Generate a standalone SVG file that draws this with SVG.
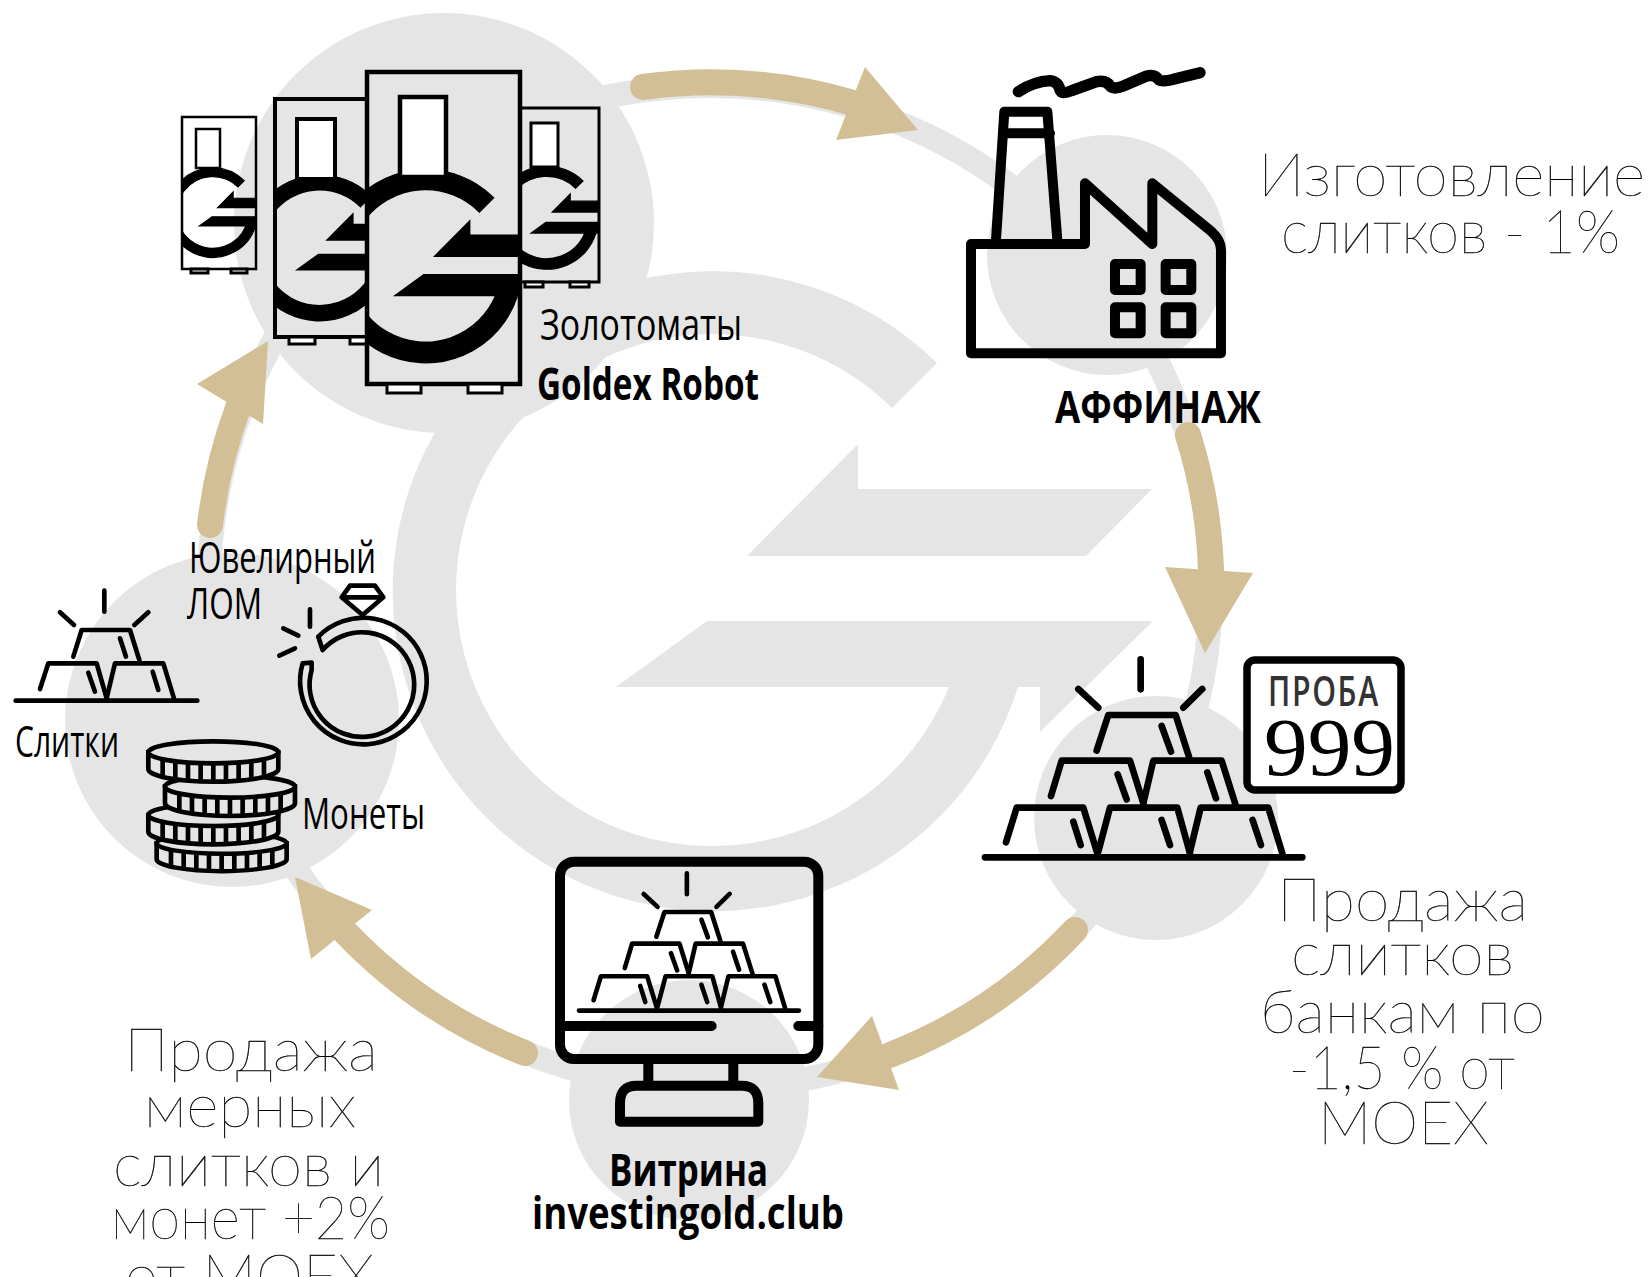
<svg xmlns="http://www.w3.org/2000/svg" xmlns:xlink="http://www.w3.org/1999/xlink" width="1650" height="1277" viewBox="0 0 1650 1277">
<style>
.bg{fill:#e5e5e5}
.ink{fill:none;stroke:#000;stroke-linecap:round;stroke-linejoin:round}
.shaft{fill:none;stroke:#d2bf96;stroke-width:26;stroke-linecap:round}
.head{fill:#d2bf96}
.thin{font-family:"Lato","Inter",sans-serif;font-weight:100;font-size:60px;fill:#000;stroke:#000;stroke-width:.35;text-anchor:start}
.c{font-family:"Open Sans","Noto Sans",sans-serif;font-size:44px;fill:#000;text-anchor:start}
.b{font-weight:700}
.box{fill:none;stroke:#000}
.foot{fill:#fff;stroke:#000;stroke-width:3}
.win{fill:#fff;stroke:#000}
.mark{stroke:#000;stroke-width:8}
</style>
<defs>
<g id="logo">
<path d="M1018,687A320,320 0 1 1 937,363L892,408A256,256 0 1 0 949,687L616,687L707,621L1153,621L1040,732L1040,687Z"/>
<path d="M858,444L858,489L1152,489L1086,556L747,556Z"/>
</g>
<g id="pyr" class="ink" stroke-width="20">
<path d="M108,607L140,503H340L382,640M310,545L332,615"/>
<path d="M385,635L420,503H622L660,640M575,540L600,615"/>
<path d="M660,635L692,503H895L937,640M848,540L873,615"/>
<path d="M243,468L275,362H480L520,490M443,403L470,478"/>
<path d="M520,490L550,362H755L797,495M712,397L738,475"/>
<path d="M380,332L415,225H617L657,350M575,258L603,335"/>
<path d="M512,58V148M325,147L385,203M697,147L640,203"/>
<path d="M45,652H997"/>
</g>
<g id="coin">
<path d="M-195,0V50A195,38 0 0 0 195,50V0Z" fill="#e5e5e5" stroke="#000" stroke-width="14"/>
<ellipse rx="195" ry="33" fill="#e5e5e5" stroke="#000" stroke-width="14"/>
<path d="M-152,21V74M-114,27V81M-76,30V85M-38,32V87M0,33V88M38,32V87M76,30V85M114,27V81M152,21V74" stroke="#000" stroke-width="14" fill="none"/>
</g>
<clipPath id="cBig"><rect x="367" y="72" width="153" height="312"/></clipPath>
<clipPath id="cMid"><rect x="275" y="99" width="92" height="238"/></clipPath>
<clipPath id="cSmall"><rect x="182" y="117" width="74" height="152"/></clipPath>
<clipPath id="cRight"><rect x="520" y="108" width="79" height="174"/></clipPath>
</defs>
<rect width="1650" height="1277" fill="#fff"/>
<g id="background">
<use xlink:href="#logo" href="#logo" class="bg"/>
<circle cx="710" cy="587" r="501" fill="none" stroke="#e5e5e5" stroke-width="24"/>
<circle cx="444" cy="223" r="210" class="bg"/>
<circle cx="1107" cy="255" r="120" class="bg"/>
<circle cx="1156" cy="818" r="122" class="bg"/>
<circle cx="689" cy="1100" r="120" class="bg"/>
<circle cx="232" cy="720" r="167" class="bg"/>
</g>
<g id="connectors">
<path class="shaft" d="M643,87A503,503 0 0 1 853,103"/><polygon class="head" points="865,67 918,130 836,140"/>
<path class="shaft" d="M1188,435A503,503 0 0 1 1211,570"/><polygon class="head" points="1165,567 1253,573 1205,653"/>
<path class="shaft" d="M1075,930A503,503 0 0 1 890,1055"/><polygon class="head" points="872,1016 817,1077 899,1090"/>
<path class="shaft" d="M525,1053A503,503 0 0 1 345,932"/><polygon class="head" points="295,877 372,910 311,959"/>
<path class="shaft" d="M210,525A503,503 0 0 1 238,408"/><polygon class="head" points="268,341 197,384 263,424"/>
</g>
<g id="node-robots">
<g id="robot-small">
<rect x="182" y="117" width="74" height="152" class="box" stroke-width="2.5"/>
<g clip-path="url(#cSmall)"><use xlink:href="#logo" href="#logo" class="mark" transform="translate(213,212) scale(.14) translate(-714,-587)"/></g>
<rect x="196" y="129" width="24" height="39" class="win" stroke-width="2.5"/>
<rect x="191" y="269" width="17" height="4" class="foot" stroke-width="2"/><rect x="231" y="269" width="16" height="4" class="foot"/>
</g>
<g id="robot-right">
<rect x="520" y="108" width="79" height="174" class="box" stroke-width="3"/>
<g clip-path="url(#cRight)"><use xlink:href="#logo" href="#logo" class="mark" transform="translate(547,217) scale(.161) translate(-714,-587)"/></g>
<rect x="531" y="123" width="27" height="44" class="win" stroke-width="3"/>
<rect x="525" y="282" width="18" height="5" class="foot"/><rect x="570" y="282" width="19" height="5" class="foot"/>
</g>
<g id="robot-mid">
<rect x="275" y="99" width="92" height="238" class="box" stroke-width="4"/>
<g clip-path="url(#cMid)"><use xlink:href="#logo" href="#logo" class="mark" transform="translate(320,247) scale(.227) translate(-714,-587)"/></g>
<rect x="297" y="119" width="38" height="60" class="win" stroke-width="4"/>
<rect x="289" y="337" width="26" height="7" class="foot"/><rect x="350" y="337" width="17" height="7" class="foot"/>
</g>
<g id="robot-big">
<rect x="367" y="72" width="153" height="312" class="box" stroke-width="4.5"/>
<g clip-path="url(#cBig)"><use xlink:href="#logo" href="#logo" class="mark" transform="translate(426,265) scale(.3) translate(-714,-587)"/></g>
<rect x="400" y="97" width="46" height="80" class="win" stroke-width="4.5"/>
<rect x="387" y="384" width="34" height="9" class="foot"/><rect x="468" y="384" width="34" height="9" class="foot"/>
</g>
<text class="c" x="540" y="340" textLength="202" lengthAdjust="spacingAndGlyphs">Золотоматы</text>
<text class="c b" x="537" y="400" textLength="222" lengthAdjust="spacingAndGlyphs">Goldex Robot</text>
</g>
<g id="node-factory">
<g class="ink" transform="translate(960,50) scale(.3333)" stroke-width="30">
<path d="M33,582H375V400L577,582V400L755,545Q783,570 783,600V910H33Z"/>
<path d="M108,570L133,185H262L292,570M133,250H270"/>
<rect x="465" y="642" width="77" height="78"/><rect x="617" y="642" width="77" height="78"/>
<rect x="465" y="772" width="77" height="78"/><rect x="617" y="772" width="77" height="78"/>
<path stroke-width="34" d="M175,125Q220,95 270,92Q295,95 300,120Q305,135 335,122L410,95Q440,90 450,108Q460,120 490,108L560,78Q585,72 595,88Q605,98 640,88L720,68"/>
</g>
<text class="c b" x="1055" y="423" textLength="206" lengthAdjust="spacingAndGlyphs">АФФИНАЖ</text>
<text class="thin" x="1258" y="196" textLength="387" lengthAdjust="spacingAndGlyphs">Изготовление</text>
<text class="thin" x="1281" y="253" textLength="339" lengthAdjust="spacingAndGlyphs">слитков - 1%</text>
</g>
<g id="node-bars">
<use xlink:href="#pyr" href="#pyr" transform="translate(970,640) scale(.3333)"/>
<rect x="1247" y="660" width="154" height="130" rx="8" fill="#fff" stroke="#000" stroke-width="7.5"/>
<text transform="translate(1268,706) scale(.72,1)" textLength="153" lengthAdjust="spacing" style="font-family:'Open Sans',sans-serif;font-size:42px;font-weight:600;fill:#333">ПРОБА</text>
<text x="1264" y="775" textLength="131" lengthAdjust="spacingAndGlyphs" style="font-family:'Liberation Serif',serif;font-size:82px;fill:#000">999</text>
<text class="thin" x="1277" y="921" textLength="251" lengthAdjust="spacingAndGlyphs">Продажа</text>
<text class="thin" x="1291" y="975" textLength="223" lengthAdjust="spacingAndGlyphs">слитков</text>
<text class="thin" x="1260" y="1033" textLength="285" lengthAdjust="spacingAndGlyphs">банкам по</text>
<text class="thin" x="1289" y="1089" textLength="226" lengthAdjust="spacingAndGlyphs">-1,5 % от</text>
<text class="thin" x="1318" y="1144" textLength="171" lengthAdjust="spacingAndGlyphs">МОЕХ</text>
</g>
<g id="node-showcase">
<g class="ink" transform="translate(530,840) scale(.3333)" stroke-width="30">
<rect x="90" y="65" width="775" height="592" rx="42"/>
<path d="M90,558H545M805,558H865M355,657V735M610,657V735"/>
<path d="M270,845V790Q270,737 320,737H635Q685,737 685,790V845Z"/>
</g>
<use xlink:href="#pyr" href="#pyr" transform="translate(568.6,860) scale(.231)"/>
<text class="c b" x="609" y="1186" textLength="159" lengthAdjust="spacingAndGlyphs">Витрина</text>
<text class="c b" x="532" y="1229" textLength="312" lengthAdjust="spacingAndGlyphs">investingold.club</text>
</g>
<g id="node-scrap">
<g transform="translate(0,520) scale(.3333)">
<g class="ink" stroke-width="14">
<path d="M120,507L145,430H290L320,535M265,458L285,515"/>
<path d="M320,535L345,430H490L522,535M458,455L475,510"/>
<path d="M220,410L245,330H390L418,420M360,355L378,410"/>
<path d="M313,212V275M180,277L222,315M445,277L403,315M47,542H592"/>
<path d="M955,350A190,190 0 1 1 908,430M968,390A157,157 0 1 1 935,450M955,350L968,390M908,430L935,428L935,450"/>
<path d="M1025,232L1050,197H1125L1150,232L1088,285ZM1025,232H1150"/>
<path d="M930,268V320M850,325L895,347M838,407L885,385"/>
</g>
<use xlink:href="#coin" href="#coin" transform="translate(665,970) scale(1,.95)"/>
<use xlink:href="#coin" href="#coin" transform="translate(640,885)"/>
<use xlink:href="#coin" href="#coin" transform="translate(690,800)"/>
<use xlink:href="#coin" href="#coin" transform="translate(640,697)"/>
</g>
<text class="c" x="189" y="573" textLength="187" lengthAdjust="spacingAndGlyphs">Ювелирный</text>
<text class="c" x="187" y="619" textLength="75" lengthAdjust="spacingAndGlyphs">ЛОМ</text>
<text class="c" x="15" y="757" textLength="104" lengthAdjust="spacingAndGlyphs">Слитки</text>
<text class="c" x="302" y="829" textLength="123" lengthAdjust="spacingAndGlyphs">Монеты</text>
<text class="thin" x="124" y="1071" textLength="254" lengthAdjust="spacingAndGlyphs">Продажа</text>
<text class="thin" x="144" y="1127" textLength="212" lengthAdjust="spacingAndGlyphs">мерных</text>
<text class="thin" x="113" y="1186" textLength="271" lengthAdjust="spacingAndGlyphs">слитков и</text>
<text class="thin" x="111" y="1239" textLength="279" lengthAdjust="spacingAndGlyphs">монет +2%</text>
<text class="thin" x="125" y="1297" textLength="249" lengthAdjust="spacingAndGlyphs">от МОЕХ</text>
</g>
</svg>
